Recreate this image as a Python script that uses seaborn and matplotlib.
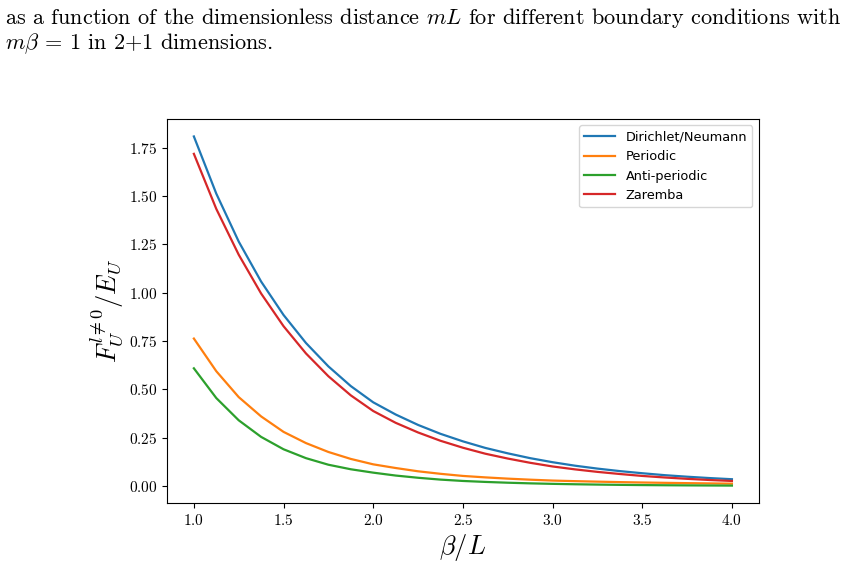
import pandas as pd
import seaborn as sns
import matplotlib.pyplot as plt

# values (beta/L in steps of 1/8)
beta_over_L = [1.0, 1.125, 1.25, 1.375, 1.5, 1.625, 1.75, 1.875, 2.0,
               2.125, 2.25, 2.375, 2.5, 2.625, 2.75, 2.875, 3.0,
               3.125, 3.25, 3.375, 3.5, 3.625, 3.75, 3.875, 4.0]
dirichlet = [1.809, 1.513, 1.265, 1.058, 0.885, 0.740, 0.619, 0.517, 0.433,
             0.370, 0.316, 0.270, 0.231, 0.197, 0.169, 0.144, 0.123,
             0.105, 0.090, 0.077, 0.066, 0.056, 0.048, 0.041, 0.035]
periodic = [0.763, 0.594, 0.460, 0.360, 0.280, 0.222, 0.176, 0.140, 0.112,
            0.093, 0.076, 0.063, 0.052, 0.0445, 0.038, 0.0326, 0.028,
            0.025, 0.0224, 0.020, 0.018, 0.0163, 0.0147, 0.0133, 0.012]
antiperiodic = [0.609, 0.455, 0.340, 0.254, 0.190, 0.144, 0.110, 0.0865, 0.069,
                0.054, 0.0425, 0.033, 0.026, 0.021, 0.0169, 0.0136, 0.011,
                0.0089, 0.0072, 0.0058, 0.0047, 0.0038, 0.0031, 0.0025, 0.002]
zaremba = [1.719, 1.434, 1.197, 0.996, 0.827, 0.686, 0.568, 0.469, 0.388,
           0.327, 0.277, 0.234, 0.198, 0.167, 0.142, 0.120, 0.101,
           0.086, 0.073, 0.062, 0.052, 0.044, 0.037, 0.031, 0.026]

labels = ['Dirichlet/Neumann', 'Periodic', 'Anti-periodic', 'Zaremba']
series = [dirichlet, periodic, antiperiodic, zaremba]
colors = ['tab:blue', 'tab:orange', 'tab:green', 'tab:red']

# long-form table for seaborn
df = pd.concat([pd.DataFrame({'x': beta_over_L, 'y': s, 'bc': lab})
                for lab, s in zip(labels, series)], ignore_index=True)

plt.rcParams['font.family'] = 'serif'
plt.rcParams['font.serif'] = ['cmr10']
plt.rcParams['mathtext.fontset'] = 'cm'
plt.rcParams['axes.formatter.use_mathtext'] = True

fig = plt.figure(figsize=(8.45, 5.71), dpi=100)
ax = fig.add_axes([0.1976, 0.119, 0.7004, 0.6726])

sns.lineplot(data=df, x='x', y='y', hue='bc', hue_order=labels,
             palette=colors, linewidth=1.6, ax=ax)

ax.set_xlabel(r'$\beta/L$', fontsize=19, labelpad=3)
ax.set_ylabel(r'$F_U^{l\neq0}/E_U$', fontsize=19, labelpad=2)
ax.tick_params(labelsize=11)
ax.set_yticks([0.0, 0.25, 0.5, 0.75, 1.0, 1.25, 1.5, 1.75])

leg = ax.legend(loc='upper right', prop={'family': 'DejaVu Sans', 'size': 9.3},
                handlelength=2.4)
leg.set_title(None)

# caption text from the surrounding document
fig.text(0.006, 1 - 18 / 571,
         r'as a function of the dimensionless distance $mL$ for different boundary conditions with',
         fontsize=16, va='center', ha='left')
fig.text(0.006, 1 - 44 / 571, r'$m\beta$ = 1 in 2+1 dimensions.',
         fontsize=16, va='center', ha='left')

plt.savefig('out.png', dpi=100)
